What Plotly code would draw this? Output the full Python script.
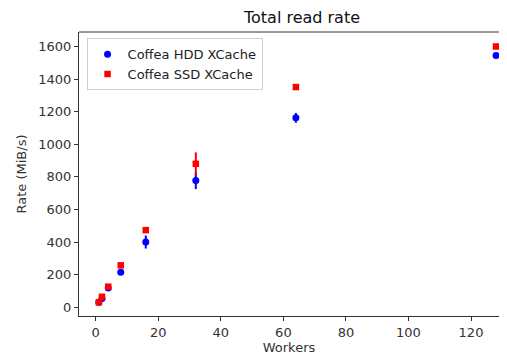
import plotly.graph_objects as go

workers = [1, 2, 4, 8, 16, 32, 64, 128]
hdd_rate = [30, 54, 118, 214, 400, 777, 1162, 1545]
hdd_err = [8, 10, 12, 15, 40, 52, 30, 20]
ssd_rate = [30, 64, 126, 257, 473, 880, 1351, 1600]
ssd_err = [6, 8, 8, 10, 12, 70, 8, 8]
x_ticks = [0, 20, 40, 60, 80, 100, 120]
y_ticks = [0, 200, 400, 600, 800, 1000, 1200, 1400, 1600]

FONT = "DejaVu Sans"
fig = go.Figure()
fig.add_trace(go.Scatter(
    x=workers, y=hdd_rate, mode="markers", name="Coffea HDD XCache",
    marker=dict(symbol="circle", color="#0000ff", size=7), cliponaxis=False,
    error_y=dict(type="data", array=hdd_err, color="#0000ff", thickness=2, width=0),
))
fig.add_trace(go.Scatter(
    x=workers, y=ssd_rate, mode="markers", name="Coffea SSD XCache",
    marker=dict(symbol="square", color="#ff0000", size=6.5), cliponaxis=False,
    error_y=dict(type="data", array=ssd_err, color="#ff0000", thickness=2, width=0),
))

axis_common = dict(
    showgrid=False, zeroline=False, showline=True, linecolor="#333333", linewidth=1,
    ticks="outside", ticklen=4, tickcolor="#333333", tickwidth=1,
    tickfont=dict(family=FONT, size=13, color="#333333"),
)
fig.update_xaxes(range=[-5.35, 128.95], tickvals=x_ticks, mirror=False,
                 title=dict(text="Workers", font=dict(family=FONT, size=13, color="#333333"), standoff=4),
                 **axis_common)
fig.update_yaxes(range=[-54, 1689], tickvals=y_ticks, mirror=False,
                 title=dict(text="Rate (MiB/s)", font=dict(family=FONT, size=13, color="#333333"), standoff=8),
                 **axis_common)

# page body has 8px margins; keep the figure small enough that no scrollbar appears
W, H = 491, 348
fig.update_layout(
    width=W, height=H,
    margin=dict(l=71, r=0, t=24, b=40, autoexpand=False),
    plot_bgcolor="white", paper_bgcolor="white",
    title=dict(text="Total read rate", x=294 / W, xref="container", xanchor="center",
               y=1 - 9 / H, yref="container", yanchor="middle",
               font=dict(family=FONT, size=16, color="#111111")),
    legend=dict(x=0.018, y=0.978, xanchor="left", yanchor="top",
                bordercolor="#d0d0d0", borderwidth=1, bgcolor="rgba(255,255,255,0.8)",
                font=dict(family=FONT, size=13, color="#222222"), tracegroupgap=0),
    shapes=[dict(type="line", xref="paper", yref="paper", x0=0, x1=1, y0=1, y1=1,
                 line=dict(color="#333333", width=1))],
)
fig.write_html("out.html")
